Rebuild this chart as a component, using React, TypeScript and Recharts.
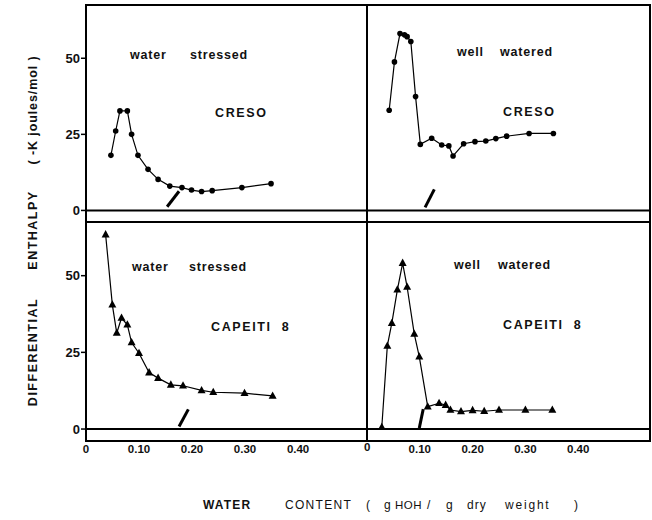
import { LineChart, Line, XAxis, YAxis, ReferenceLine } from 'recharts';
import type { CSSProperties, ReactNode } from 'react';

const X_TICKS = [0, 0.1, 0.2, 0.3, 0.4];
const Y_TICKS = [0, 25, 50];

// CRESO, water stressed
const cresoStressedX = [0.047, 0.056, 0.064, 0.078, 0.086, 0.098, 0.117, 0.136, 0.158, 0.181, 0.199, 0.218, 0.238, 0.294, 0.349];
const cresoStressedY = [18.1, 26.1, 32.7, 32.7, 25, 18.1, 13.5, 10.2, 8.0, 7.5, 6.7, 6.2, 6.5, 7.5, 8.8];

// CRESO, well watered
const cresoWateredX = [0.042, 0.052, 0.0625, 0.071, 0.076, 0.083, 0.092, 0.101, 0.1225, 0.1415, 0.155, 0.163, 0.183, 0.2045, 0.225, 0.244, 0.2645, 0.307, 0.353];
const cresoWateredY = [32.9, 48.8, 58.1, 57.7, 57.1, 55.5, 37.4, 21.7, 23.7, 21.5, 21.2, 17.9, 21.9, 22.6, 22.8, 23.6, 24.4, 25.3, 25.3];

// CAPEITI 8, water stressed
const capeitiStressedX = [0.037, 0.0497, 0.058, 0.067, 0.078, 0.086, 0.1, 0.119, 0.136, 0.16, 0.183, 0.218, 0.24, 0.299, 0.352];
const capeitiStressedY = [63.4, 40.5, 31.3, 36.2, 34, 28.2, 24.7, 18.4, 16.6, 14.4, 14.1, 12.6, 12.0, 11.7, 10.8];

// CAPEITI 8, well watered
const capeitiWateredX = [0.028, 0.0385, 0.047, 0.0575, 0.0675, 0.076, 0.0895, 0.099, 0.115, 0.1365, 0.149, 0.158, 0.178, 0.2, 0.222, 0.25, 0.3, 0.351];
const capeitiWateredY = [0.6, 27.1, 34.5, 45.4, 54.1, 46.3, 31, 23.6, 7.3, 8.4, 7.8, 6.2, 5.7, 6.1, 5.8, 6.2, 6.2, 6.2];

// arrow marks (start, tip) in data units
const arrowCresoStressed = [{ x: 0.1755, y: 6.3 }, { x: 0.153, y: 1.2 }];
const arrowCresoWatered = [{ x: 0.1275, y: 6.9 }, { x: 0.11, y: 1.0 }];
const arrowCapeitiStressed = [{ x: 0.193, y: 6.4 }, { x: 0.1755, y: 0.8 }];
const arrowCapeitiWatered = [{ x: 0.1065, y: 6.5 }, { x: 0.099, y: 0.3 }];

const zip = (xs: number[], ys: number[]) => xs.map((x, i) => ({ x, y: ys[i] }));

const FONT = '"Liberation Sans", Arial, sans-serif';
const yTickStyle = { fontSize: 13, fontWeight: 700, fill: '#111', fontFamily: FONT };

const Triangle = (props: any) => {
  const { cx, cy, index } = props;
  if (cx == null || cy == null) return null;
  return (
    <polygon
      key={`tri-${index}`}
      points={`${cx},${cy - 4.5} ${cx - 4},${cy + 2.8} ${cx + 4},${cy + 2.8}`}
      fill="#000"
    />
  );
};

const fmtX = (v: number) => (v === 0 ? '0' : v.toFixed(2));

interface PanelProps {
  data: { x: number; y: number }[];
  arrow: { x: number; y: number }[];
  left: number;
  top: number;
  width: number;
  height: number;
  xMax: number;
  yMin: number;
  showY: boolean;
  showX: boolean;
  skipZero?: boolean;
  triangles: boolean;
}

function Panel(p: PanelProps) {
  // the right-hand panels' origin label sits on the svg edge and is drawn outside the chart
  const renderXTick = (props: any) => {
    const { x, y, payload } = props;
    if (p.skipZero && payload.value === 0) return <g />;
    return (
      <text x={x} y={y + 10} textAnchor="middle" fontSize={11.5} fontWeight={700} fill="#111" fontFamily={FONT}>
        {fmtX(payload.value)}
      </text>
    );
  };

  return (
    <div style={{ position: 'absolute', left: p.left, top: p.top }}>
      <LineChart width={p.width} height={p.height} data={p.data} margin={{ top: 0, right: 0, bottom: 0, left: 0 }}>
        <XAxis
          type="number"
          dataKey="x"
          domain={[0, p.xMax]}
          ticks={X_TICKS}
          interval={0}
          hide={!p.showX}
          height={20}
          axisLine={false}
          tickLine={false}
          tickSize={0}
          tick={renderXTick}
          allowDataOverflow
        />
        {p.showX && (
          <XAxis
            xAxisId="top"
            orientation="top"
            type="number"
            domain={[0, p.xMax]}
            ticks={[0.1, 0.2, 0.3, 0.4]}
            interval={0}
            tick={false}
            tickSize={5}
            mirror
            axisLine={false}
            tickLine={{ stroke: '#000', strokeWidth: 1.5 }}
          />
        )}
        <YAxis
          type="number"
          domain={[p.yMin, 67.5]}
          ticks={Y_TICKS}
          interval={0}
          hide={!p.showY}
          width={40}
          axisLine={false}
          tickSize={5}
          tickMargin={1}
          tickLine={{ stroke: '#000', strokeWidth: 1.5 }}
          tick={yTickStyle}
          allowDataOverflow
        />
        <ReferenceLine y={0} stroke="#000" strokeWidth={2} />
        <ReferenceLine segment={p.arrow} stroke="#000" strokeWidth={3} ifOverflow="visible" />
        <Line
          type="linear"
          dataKey="y"
          stroke="#000"
          strokeWidth={1.2}
          isAnimationActive={false}
          dot={p.triangles ? Triangle : { r: 2.8, fill: '#000', stroke: '#000', strokeWidth: 0 }}
          activeDot={false}
        />
      </LineChart>
    </div>
  );
}

const noteStyle: CSSProperties = {
  position: 'absolute',
  fontFamily: FONT,
  fontWeight: 700,
  fontSize: 12.5,
  letterSpacing: 0.8,
  color: '#111',
  whiteSpace: 'pre',
  lineHeight: '14px',
  zIndex: 4,
};

function Note({ x, y, children, size = 12.5, spacing = 0.8, bold = true }: { x: number; y: number; children: ReactNode; size?: number; spacing?: number; bold?: boolean }) {
  return (
    <div style={{ ...noteStyle, left: x, top: y - 7, fontSize: size, letterSpacing: spacing, fontWeight: bold ? 700 : 400 }}>
      {children}
    </div>
  );
}

// rotated word for the y title, centred at (x, y)
function VWord({ x, y, children, spacing = 1.5 }: { x: number; y: number; children: ReactNode; spacing?: number }) {
  return (
    <div
      style={{
        position: 'absolute',
        left: x,
        top: y,
        transform: 'translate(-50%, -50%) rotate(-90deg)',
        whiteSpace: 'pre',
        fontFamily: FONT,
        fontSize: 12.5,
        fontWeight: 700,
        letterSpacing: spacing,
        color: '#111',
        lineHeight: '14px',
      }}
    >
      {children}
    </div>
  );
}

const line = (s: CSSProperties): CSSProperties => ({ position: 'absolute', background: '#000', zIndex: 3, ...s });

export default function App() {
  return (
    <div style={{ position: 'absolute', left: 0, top: 0, width: 652, height: 520, background: '#fff', fontFamily: FONT }}>
      <Panel data={zip(cresoStressedX, cresoStressedY)} arrow={arrowCresoStressed} left={46} top={5} width={321} height={217} xMax={0.53} yMin={-3.8} showY showX={false} triangles={false} />
      <Panel data={zip(cresoWateredX, cresoWateredY)} arrow={arrowCresoWatered} left={367} top={5} width={283} height={217} xMax={0.536} yMin={-3.8} showY={false} showX={false} triangles={false} />
      <Panel data={zip(capeitiStressedX, capeitiStressedY)} arrow={arrowCapeitiStressed} left={46} top={222} width={321} height={239} xMax={0.53} yMin={-3.9} showY showX triangles />
      <Panel data={zip(capeitiWateredX, capeitiWateredY)} arrow={arrowCapeitiWatered} left={367} top={222} width={283} height={239} xMax={0.536} yMin={-3.9} showY={false} showX skipZero triangles />

      {/* frame */}
      <div style={line({ left: 85, top: 4, width: 566, height: 2 })} />
      <div style={line({ left: 85, top: 440, width: 566, height: 2 })} />
      <div style={line({ left: 85, top: 221, width: 566, height: 2 })} />
      <div style={line({ left: 85, top: 4, width: 2, height: 438 })} />
      <div style={line({ left: 366, top: 4, width: 2, height: 438 })} />
      <div style={line({ left: 649, top: 4, width: 2, height: 438 })} />

      {/* origin label of the right-hand x axis */}
      <Note x={364} y={447} size={11.5} spacing={0}>0</Note>

      {/* panel notes */}
      <Note x={130} y={55}>water</Note>
      <Note x={190} y={55}>stressed</Note>
      <Note x={215} y={113} spacing={1.6}>CRESO</Note>
      <Note x={457} y={52}>well</Note>
      <Note x={500} y={52}>watered</Note>
      <Note x={503} y={112} spacing={1.6}>CRESO</Note>
      <Note x={132} y={267}>water</Note>
      <Note x={189} y={267}>stressed</Note>
      <Note x={211} y={327} spacing={1.6}>{'CAPEITI  8'}</Note>
      <Note x={454} y={265}>well</Note>
      <Note x={498} y={265}>watered</Note>
      <Note x={503} y={325} spacing={1.6}>{'CAPEITI  8'}</Note>

      {/* y title */}
      <VWord x={33} y={352}>DIFFERENTIAL</VWord>
      <VWord x={33} y={230}>ENTHALPY</VWord>
      <VWord x={33} y={110} spacing={0.9}>{'( -K joules/mol )'}</VWord>

      {/* x title */}
      <Note x={203} y={505} size={12} spacing={1.2}>WATER</Note>
      <Note x={285} y={505} size={12} spacing={1.3} bold={false}>CONTENT</Note>
      <Note x={366} y={505} size={12} bold={false}>(</Note>
      <Note x={384} y={505} size={12} bold={false}>g</Note>
      <Note x={395} y={505} size={11.5} spacing={0.5} bold={false}>HOH</Note>
      <Note x={427} y={505} size={12} bold={false}>/</Note>
      <Note x={446} y={505} size={12} bold={false}>g</Note>
      <Note x={467} y={505} size={12} spacing={1} bold={false}>dry</Note>
      <Note x={505} y={505} size={12} spacing={1.8} bold={false}>weight</Note>
      <Note x={574} y={505} size={12} bold={false}>)</Note>
    </div>
  );
}
